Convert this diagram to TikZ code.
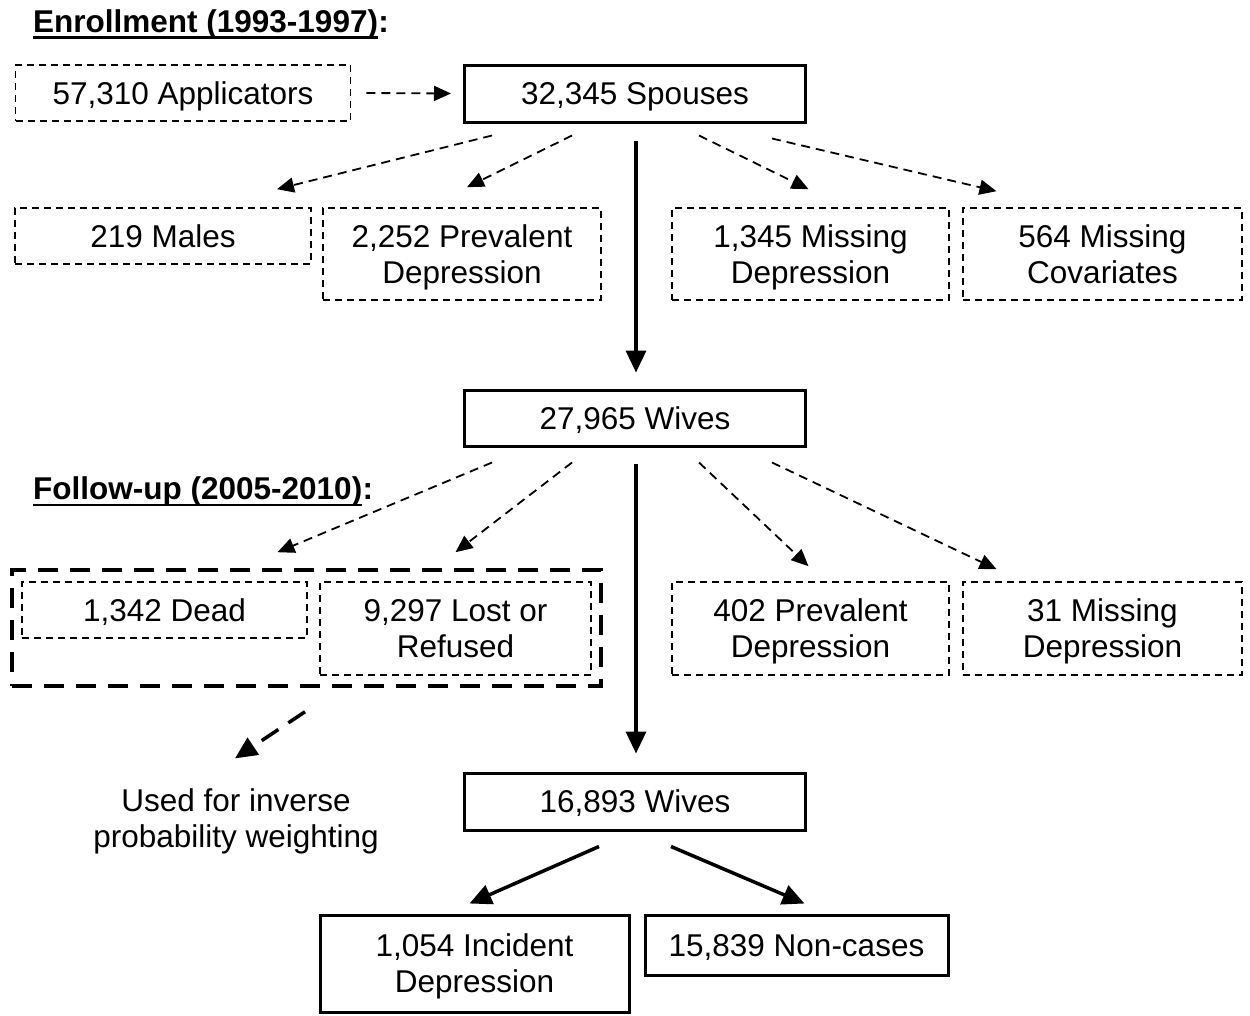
\documentclass[tikz,border=0pt]{standalone}
\usepackage{fontspec}
\setmainfont{Liberation Sans}
\usetikzlibrary{arrows.meta}
\begin{document}
\begin{tikzpicture}[x=1pt,y=-1pt,
  every node/.style={font=\fontsize{31.5}{36}\selectfont, align=center, inner sep=0pt, text depth=0pt},
  sbox/.style={draw, line width=3pt},
  dbox/.style={draw, line width=1.6pt, dash pattern=on 7pt off 5pt},
  darr/.style={line width=1.8pt, dash pattern=on 9pt off 6pt, -{Triangle[length=17pt,width=15pt]}},
  sarr/.style={line width=3.5pt, -{Triangle[length=22pt,width=20pt]}},
  garr/.style={line width=3.5pt, dash pattern=on 20pt off 12pt, -{Triangle[length=22pt,width=20pt]}},
  ttl/.style={font=\fontsize{31.5}{36}\selectfont\bfseries, anchor=base west}
]
\useasboundingbox (0,0) rectangle (1250,1015);

% titles
\node[ttl] (t1) at (33,32) {Enrollment (1993-1997)};
\node[ttl, anchor=base west] (t1c) at (t1.base east) {:};
\draw[line width=2.5pt] ([yshift=-5.5pt]t1.base west) -- ([yshift=-5.5pt]t1.base east);
\node[ttl] (t2) at (33,499) {Follow-up (2005-2010)};
\node[ttl, anchor=base west] (t2c) at (t2.base east) {:};
\draw[line width=2.5pt] ([yshift=-6pt]t2.base west) -- ([yshift=-6pt]t2.base east);

% enrollment
\node[dbox, minimum width=335pt, minimum height=56pt] (app) at (183,93) {57,310 Applicators};
\node[sbox, minimum width=341pt, minimum height=57pt] (sp) at (635,93.5) {32,345 Spouses};
\node[dbox, minimum width=296pt, minimum height=56pt] (mal) at (163,236) {219 Males};
\node[dbox, minimum width=278pt, minimum height=92pt] (pd1) at (462,254) {2,252 Prevalent\\Depression};
\node[dbox, minimum width=277pt, minimum height=92pt] (md1) at (810.5,254) {1,345 Missing\\Depression};
\node[dbox, minimum width=279pt, minimum height=92pt] (mc) at (1102.5,254) {564 Missing\\Covariates};

\draw[darr] ([xshift=15pt]app.east) -- ([xshift=-12pt]sp.west);
\draw[darr] ([shift={(29,12)}]sp.south west) -- ([shift={(114,-18)}]mal.north);
\draw[darr] ([shift={(109,12)}]sp.south west) -- ([shift={(5,-20)}]pd1.north);
\draw[darr] ([shift={(236,12)}]sp.south west) -- ([shift={(-2,-18)}]md1.north);
\draw[darr] ([shift={(309,15)}]sp.south west) -- ([shift={(-106,-16)}]mc.north);

% wives
\node[sbox, minimum width=341pt, minimum height=56pt] (wv1) at (635,418) {27,965 Wives};
\draw[sarr] ([shift={(1,17)}]sp.south) -- ([shift={(1,-16)}]wv1.north);

% follow-up
\node[draw, line width=3.5pt, dash pattern=on 20pt off 12pt, minimum width=589pt, minimum height=116pt] (grp) at (306.5,628) {};
\node[dbox, minimum width=285pt, minimum height=56pt] (dead) at (164.5,610) {1,342 Dead};
\node[dbox, minimum width=271pt, minimum height=93pt] (lost) at (455.5,628.5) {9,297 Lost or\\Refused};
\node[dbox, minimum width=277pt, minimum height=93pt] (pd2) at (810.5,628.5) {402 Prevalent\\Depression};
\node[dbox, minimum width=279pt, minimum height=93pt] (md2) at (1102.5,628.5) {31 Missing\\Depression};

\draw[darr] ([shift={(29,15)}]wv1.south west) -- ([shift={(113,-29)}]dead.north);
\draw[darr] ([shift={(109,15)}]wv1.south west) -- ([shift={(0,-29)}]lost.north);
\draw[darr] ([shift={(236,15)}]wv1.south west) -- ([shift={(-2,-15)}]pd2.north);
\draw[darr] ([shift={(309,15)}]wv1.south west) -- ([shift={(-106,-12)}]md2.north);

\node (ipw) at (236,818) {Used for inverse\\probability weighting};
\draw[garr] ([shift={(-1.5,24)}]grp.south) -- ([shift={(-1,-30)}]ipw.north);

\node[sbox, minimum width=341pt, minimum height=57pt] (wv2) at (635,801.5) {16,893 Wives};
\draw[sarr] ([shift={(1,16)}]wv1.south) -- ([shift={(1,-18)}]wv2.north);

\node[sbox, minimum width=309pt, minimum height=97pt] (inc) at (474.5,963.5) {1,054 Incident\\Depression};
\node[sbox, minimum width=303pt, minimum height=60pt] (non) at (796.5,945) {15,839 Non-cases};
\draw[sarr] ([shift={(136,15)}]wv2.south west) -- ([shift={(-5,-10)}]inc.north);
\draw[sarr] ([shift={(208,15)}]wv2.south west) -- ([shift={(8,-10)}]non.north);
\end{tikzpicture}
\end{document}
